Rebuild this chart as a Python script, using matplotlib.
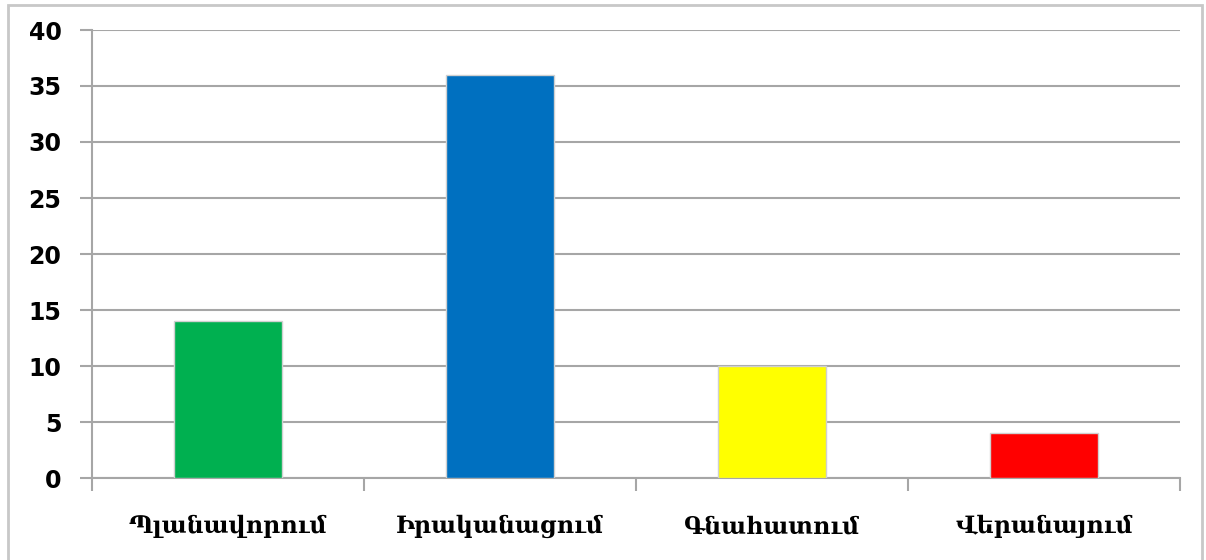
import matplotlib.pyplot as plt
from matplotlib.patches import Rectangle
import numpy as np

categories = ['Պլանավորում', 'Իրականացում', 'Գնահատում', 'Վերանայում']
values = [14, 36, 10, 4]
colors = ['#00B050', '#0070C0', '#FFFF00', '#FF0000']
yticks = [0, 5, 10, 15, 20, 25, 30, 35, 40]

fig = plt.figure(figsize=(12.06, 5.6), dpi=100)
ax = fig.add_axes([92 / 1206, 82 / 560, 1088 / 1206, 448 / 560])

# outer chart frame
fig.patches.append(Rectangle((8 / 1206, -0.1), 1194 / 1206, 1.1 - 5 / 560,
                             transform=fig.transFigure, fill=False,
                             edgecolor='#C8C8C8', linewidth=2))

x = np.arange(len(categories))
ax.bar(x, values, width=0.4, color=colors, edgecolor='#D0D0D0', linewidth=1, zorder=3)

ax.set_xlim(-0.5, 3.5)
ax.set_ylim(0, 40)
ax.set_yticks(yticks)
ax.set_yticklabels([str(v) for v in yticks], fontsize=17, fontweight='bold',
                   family='DejaVu Sans')
ax.grid(axis='y', color='#A6A6A6', linewidth=1.5, zorder=0)

ax.set_xticks(x)
ax.set_xticklabels(categories, fontsize=17, fontweight='bold',
                   family=['DejaVu Serif', 'DejaVu Sans'])
ax.set_xticks(np.arange(-0.5, 4, 1), minor=True)
ax.tick_params(axis='x', which='major', length=0, pad=26)
ax.tick_params(axis='x', which='minor', length=9, color='#A6A6A6', width=1.5)
ax.tick_params(axis='y', length=9, color='#A6A6A6', width=1.5, pad=13)

for s in ['top', 'right']:
    ax.spines[s].set_visible(False)
for s in ['left', 'bottom']:
    ax.spines[s].set_color('#A6A6A6')
    ax.spines[s].set_linewidth(1.5)

plt.savefig('out.png')
plt.close()
